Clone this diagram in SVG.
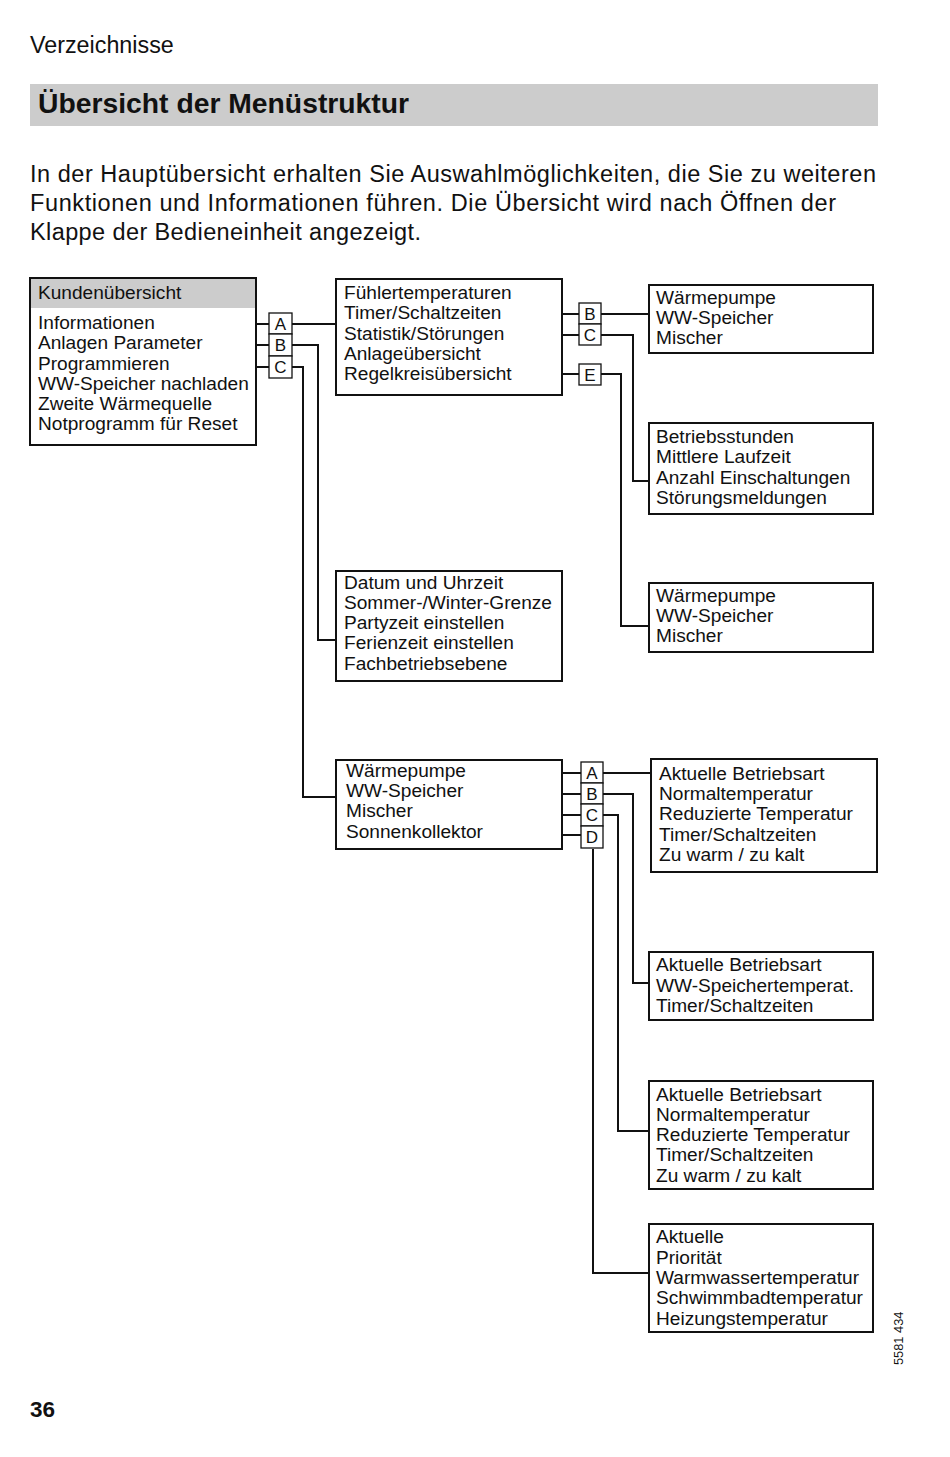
<svg xmlns="http://www.w3.org/2000/svg" width="950" height="1457" viewBox="0 0 950 1457">
<style>
text{font-family:"Liberation Sans",Arial,sans-serif;fill:#111}
.t{font-size:19.1px}
.k{font-size:17px}
.box{fill:#fff;stroke:#111;stroke-width:2}
.lb{fill:#fff;stroke:#111;stroke-width:1.3}
.ln{fill:none;stroke:#111;stroke-width:2}
.p{font-size:23.5px}
</style>
<rect width="950" height="1457" fill="#fff"/>
<text x="30" y="53" style="font-size:23.3px">Verzeichnisse</text>
<rect x="30" y="84" width="848" height="42" fill="#cccccc"/>
<text x="38" y="113" style="font-size:28.3px;font-weight:bold">Übersicht der Menüstruktur</text>
<text class="p" x="30" y="182" textLength="846" lengthAdjust="spacing">In der Hauptübersicht erhalten Sie Auswahlmöglichkeiten, die Sie zu weiteren</text>
<text class="p" x="30" y="211" textLength="806" lengthAdjust="spacing">Funktionen und Informationen führen. Die Übersicht wird nach Öffnen der</text>
<text class="p" x="30" y="240" textLength="391" lengthAdjust="spacing">Klappe der Bedieneinheit angezeigt.</text>

<g id="connectors">
<path class="ln" d="M168 324H336"/>
<path class="ln" d="M209 345H318V640H336"/>
<path class="ln" d="M178 367H303V797H336"/>
<path class="ln" d="M503 314H649"/>
<path class="ln" d="M510 335H633V481H649"/>
<path class="ln" d="M515 374H621V626H649"/>
<path class="ln" d="M470 773H651"/>
<path class="ln" d="M465 794H633V983H649"/>
<path class="ln" d="M420 815H618V1131H649"/>
<path class="ln" d="M491 835H581M593 849V1273H649"/>
</g>

<g id="n-kunden">
<rect class="box" x="30" y="278" width="226" height="167"/>
<rect x="31" y="279" width="224" height="29" fill="#cccccc"/>
<text class="t" x="38" y="299">Kundenübersicht</text>
<text class="t" x="38" y="329">Informationen</text>
<text class="t" x="38" y="349">Anlagen Parameter</text>
<text class="t" x="38" y="370">Programmieren</text>
<text class="t" x="38" y="390">WW-Speicher nachladen</text>
<text class="t" x="38" y="410">Zweite Wärmequelle</text>
<text class="t" x="38" y="430">Notprogramm für Reset</text>
</g>
<g id="lbl-abc1">
<rect class="lb" x="269" y="313" width="23" height="21"/>
<rect class="lb" x="269" y="334" width="23" height="22"/>
<rect class="lb" x="269" y="356" width="23" height="22"/>
<text class="k" x="280.5" y="330" text-anchor="middle">A</text>
<text class="k" x="280.5" y="351" text-anchor="middle">B</text>
<text class="k" x="280.5" y="373" text-anchor="middle">C</text>
</g>

<g id="n-info">
<rect class="box" x="336" y="279" width="226" height="116"/>
<text class="t" x="344" y="299">Fühlertemperaturen</text>
<text class="t" x="344" y="319">Timer/Schaltzeiten</text>
<text class="t" x="344" y="340">Statistik/Störungen</text>
<text class="t" x="344" y="360">Anlageübersicht</text>
<text class="t" x="344" y="380">Regelkreisübersicht</text>
</g>
<g id="lbl-bce">
<rect class="lb" x="579" y="303" width="22" height="21"/>
<rect class="lb" x="579" y="324" width="22" height="21"/>
<rect class="lb" x="579" y="364" width="22" height="21"/>
<text class="k" x="590" y="320" text-anchor="middle">B</text>
<text class="k" x="590" y="341" text-anchor="middle">C</text>
<text class="k" x="590" y="381" text-anchor="middle">E</text>
</g>

<g id="n-timer">
<rect class="box" x="649" y="285" width="224" height="68"/>
<text class="t" x="656" y="304">Wärmepumpe</text>
<text class="t" x="656" y="324">WW-Speicher</text>
<text class="t" x="656" y="344">Mischer</text>
</g>
<g id="n-statistik">
<rect class="box" x="649" y="423" width="224" height="91"/>
<text class="t" x="656" y="443">Betriebsstunden</text>
<text class="t" x="656" y="463">Mittlere Laufzeit</text>
<text class="t" x="656" y="484">Anzahl Einschaltungen</text>
<text class="t" x="656" y="504">Störungsmeldungen</text>
</g>
<g id="n-regelkreis">
<rect class="box" x="649" y="583" width="224" height="69"/>
<text class="t" x="656" y="602">Wärmepumpe</text>
<text class="t" x="656" y="622">WW-Speicher</text>
<text class="t" x="656" y="642">Mischer</text>
</g>

<g id="n-parameter">
<rect class="box" x="336" y="571" width="226" height="110"/>
<text class="t" x="344" y="589">Datum und Uhrzeit</text>
<text class="t" x="344" y="609">Sommer-/Winter-Grenze</text>
<text class="t" x="344" y="629">Partyzeit einstellen</text>
<text class="t" x="344" y="649">Ferienzeit einstellen</text>
<text class="t" x="344" y="670">Fachbetriebsebene</text>
</g>

<g id="n-programmieren">
<rect class="box" x="336" y="760" width="226" height="89"/>
<text class="t" x="346" y="777">Wärmepumpe</text>
<text class="t" x="346" y="797">WW-Speicher</text>
<text class="t" x="346" y="817">Mischer</text>
<text class="t" x="346" y="838">Sonnenkollektor</text>
</g>
<g id="lbl-abcd">
<rect class="lb" x="581" y="762" width="22" height="21"/>
<rect class="lb" x="581" y="783" width="22" height="21"/>
<rect class="lb" x="581" y="804" width="22" height="22"/>
<rect class="lb" x="581" y="826" width="22" height="22"/>
<text class="k" x="592" y="779" text-anchor="middle">A</text>
<text class="k" x="592" y="800" text-anchor="middle">B</text>
<text class="k" x="592" y="821" text-anchor="middle">C</text>
<text class="k" x="592" y="843" text-anchor="middle">D</text>
</g>

<g id="n-wp">
<rect class="box" x="651" y="759" width="226" height="113"/>
<text class="t" x="659" y="780">Aktuelle Betriebsart</text>
<text class="t" x="659" y="800">Normaltemperatur</text>
<text class="t" x="659" y="820">Reduzierte Temperatur</text>
<text class="t" x="659" y="841">Timer/Schaltzeiten</text>
<text class="t" x="659" y="861">Zu warm / zu kalt</text>
</g>
<g id="n-ww">
<rect class="box" x="649" y="952" width="224" height="68"/>
<text class="t" x="656" y="971">Aktuelle Betriebsart</text>
<text class="t" x="656" y="992">WW-Speichertemperat.</text>
<text class="t" x="656" y="1012">Timer/Schaltzeiten</text>
</g>
<g id="n-mischer">
<rect class="box" x="649" y="1081" width="224" height="108"/>
<text class="t" x="656" y="1101">Aktuelle Betriebsart</text>
<text class="t" x="656" y="1121">Normaltemperatur</text>
<text class="t" x="656" y="1141">Reduzierte Temperatur</text>
<text class="t" x="656" y="1161">Timer/Schaltzeiten</text>
<text class="t" x="656" y="1182">Zu warm / zu kalt</text>
</g>
<g id="n-sonne">
<rect class="box" x="649" y="1224" width="224" height="108"/>
<text class="t" x="656" y="1243">Aktuelle</text>
<text class="t" x="656" y="1264">Priorität</text>
<text class="t" x="656" y="1284">Warmwassertemperatur</text>
<text class="t" x="656" y="1304">Schwimmbadtemperatur</text>
<text class="t" x="656" y="1325">Heizungstemperatur</text>
</g>

<text x="0" y="0" transform="translate(903 1365) rotate(-90)" style="font-size:12.8px">5581 434</text>
<text x="30" y="1417" style="font-size:22.5px;font-weight:bold">36</text>
</svg>
